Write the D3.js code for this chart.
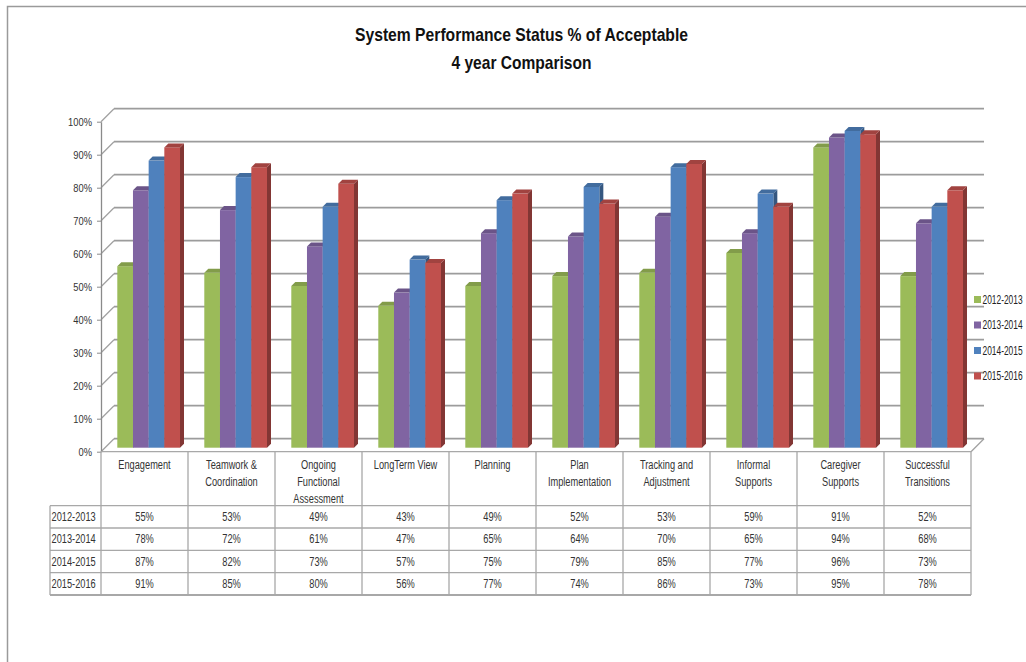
<!DOCTYPE html>
<html>
<head>
<meta charset="utf-8">
<script src="https://cdn.jsdelivr.net/npm/d3@7"></script>
<style>
  html, body { margin: 0; padding: 0; background: #fff; }
  svg { display: block; }
  text { font-family: 'Liberation Sans Narrow', 'Arial Narrow', 'Liberation Sans', sans-serif; fill: #333; }
</style>
</head>
<body>
<svg id="chart" width="1026" height="662"></svg>
<script>
// ---- data ----
const categories = ["Engagement", "Teamwork & Coordination", "Ongoing Functional Assessment", "LongTerm View", "Planning", "Plan Implementation", "Tracking and Adjustment", "Informal Supports", "Caregiver Supports", "Successful Transitions"];
const categoryLines = [["Engagement"], ["Teamwork &", "Coordination"], ["Ongoing", "Functional", "Assessment"], ["LongTerm View"], ["Planning"], ["Plan", "Implementation"], ["Tracking and", "Adjustment"], ["Informal", "Supports"], ["Caregiver", "Supports"], ["Successful", "Transitions"]];
const seriesNames = ["2012-2013", "2013-2014", "2014-2015", "2015-2016"];
const values2012 = [55, 53, 49, 43, 49, 52, 53, 59, 91, 52];
const values2013 = [78, 72, 61, 47, 65, 64, 70, 65, 94, 68];
const values2014 = [87, 82, 73, 57, 75, 79, 85, 77, 96, 73];
const values2015 = [91, 85, 80, 56, 77, 74, 86, 73, 95, 78];
const yTicks = [0, 10, 20, 30, 40, 50, 60, 70, 80, 90, 100];
const colors = ["#9BBB59", "#8064A2", "#4F81BD", "#C0504D"];
const titleLines = ["System Performance Status % of Acceptable", "4 year Comparison"];

const seriesValues = [values2012, values2013, values2014, values2015];

const svg = d3.select("#chart");

// condense text horizontally (mimics a narrow font)
function condense(sel, f) {
  sel.each(function () {
    const w = this.getComputedTextLength();
    d3.select(this).attr("textLength", (w * f).toFixed(1)).attr("lengthAdjust", "spacingAndGlyphs");
  });
}

// outer frame
svg.append("path").attr("d", "M7.5,662 V6.5 H1026").attr("fill", "none").attr("stroke", "#9a9a9a").attr("stroke-width", 1.5);

// title
svg.append("text").attr("x", 521.5).attr("y", 41).attr("text-anchor", "middle")
  .style("font-weight", "bold").style("font-size", "19px").style("fill", "#111")
  .attr("textLength", 333).attr("lengthAdjust", "spacingAndGlyphs").text(titleLines[0]);
svg.append("text").attr("x", 521.5).attr("y", 68.5).attr("text-anchor", "middle")
  .style("font-weight", "bold").style("font-size", "19px").style("fill", "#111")
  .attr("textLength", 140).attr("lengthAdjust", "spacingAndGlyphs").text(titleLines[1]);

// scales
const x = d3.scaleBand().domain(categories).range([101, 971]).paddingInner(0).paddingOuter(0);
const xs = d3.scaleBand().domain(seriesNames).range([16.3, 79]);
const y = d3.scaleLinear().domain([0, 100]).range([451.7, 121.7]);
const DX = 13, DY = -13;     // back wall depth
const BD = 4;                // bar depth offset from front plane
const TD = 4;                // bar top depth

// back wall gridlines
const grid = svg.append("g");
grid.selectAll("line.h").data(yTicks).join("line")
  .attr("x1", 101 + DX).attr("x2", 971 + DX)
  .attr("y1", d => y(d) + DY).attr("y2", d => y(d) + DY)
  .attr("stroke", "#9c9c9c").attr("stroke-width", 1.7);
// side wall diagonals
grid.selectAll("line.d").data(yTicks).join("line")
  .attr("x1", 101).attr("x2", 101 + DX)
  .attr("y1", d => y(d)).attr("y2", d => y(d) + DY)
  .attr("stroke", "#a0a0a0").attr("stroke-width", 1.3);
// floor right edge
grid.append("line").attr("x1", 971).attr("x2", 971 + DX).attr("y1", y(0)).attr("y2", y(0) + DY)
  .attr("stroke", "#a0a0a0").attr("stroke-width", 1.3);

// y axis
const yAxis = d3.axisLeft(y).tickValues(yTicks).tickFormat(d => d + "%").tickSize(4).tickSizeOuter(0);
const ag = svg.append("g").attr("transform", "translate(101,0)").call(yAxis);
ag.select(".domain").attr("stroke", "#8a8a8a").attr("stroke-width", 1.3);
ag.selectAll(".tick line").attr("stroke", "#8a8a8a");
ag.selectAll(".tick text").attr("x", -9).style("font-size", "11px").style("fill", "#333")
  .style("font-family", "'Liberation Sans Narrow', 'Arial Narrow', 'Liberation Sans', sans-serif");
condense(ag.selectAll(".tick text"), 0.85);

// bars (3D columns)
const barsG = svg.append("g");
const barW = xs.bandwidth();
categories.forEach((cat, ci) => {
  seriesNames.forEach((s, si) => {
    const v = seriesValues[si][ci];
    const x0 = x(cat) + xs(s);
    const x1 = x0 + barW;
    const top = y(v) - BD;
    const base = y(0) - BD;
    const c = d3.color(colors[si]);
    const g = barsG.append("g");
    // side face
    g.append("path")
      .attr("d", `M${x1},${top} L${x1 + TD},${top - TD} L${x1 + TD},${base - TD} L${x1},${base} Z`)
      .attr("fill", c.darker(1.1));
    // front face
    g.append("rect").attr("x", x0).attr("y", top).attr("width", barW).attr("height", base - top)
      .attr("fill", colors[si]);
    // top face
    g.append("path")
      .attr("d", `M${x0},${top} L${x1},${top} L${x1 + TD},${top - TD} L${x0 + TD},${top - TD} Z`)
      .attr("fill", c.darker(0.5));
  });
});

// legend
const lg = svg.append("g");
seriesNames.forEach((s, i) => {
  const ly = 299.5 + i * 25.5;
  lg.append("rect").attr("x", 974).attr("y", ly - 3.5).attr("width", 7).attr("height", 7).attr("fill", colors[i]);
  lg.append("text").attr("transform", `translate(982.5,${ly + 4}) scale(0.7,1)`)
    .style("font-size", "12px").style("fill", "#222").text(s);
});

// data table
const tg = svg.append("g");
const rowTops = [505.7, 528, 550.3, 572.7, 595];
const tableStroke = "#a8a8a8";
// horizontal lines
tg.append("line").attr("x1", 101).attr("x2", 971).attr("y1", y(0)).attr("y2", y(0)).attr("stroke", tableStroke).attr("stroke-width", 1.3);
rowTops.forEach((ry, i) => {
  tg.append("line").attr("x1", 50).attr("x2", 971).attr("y1", ry).attr("y2", ry)
    .attr("stroke", tableStroke).attr("stroke-width", i === rowTops.length - 1 ? 2 : 1.3);
});
// vertical lines
tg.append("line").attr("x1", 50).attr("x2", 50).attr("y1", rowTops[0]).attr("y2", rowTops[4]).attr("stroke", tableStroke).attr("stroke-width", 1.3);
categories.forEach((cat, ci) => {
  tg.append("line").attr("x1", x(cat)).attr("x2", x(cat)).attr("y1", y(0)).attr("y2", rowTops[4]).attr("stroke", tableStroke).attr("stroke-width", 1.3);
});
tg.append("line").attr("x1", 971).attr("x2", 971).attr("y1", y(0)).attr("y2", rowTops[4]).attr("stroke", tableStroke).attr("stroke-width", 1.3);

// header labels
categories.forEach((cat, ci) => {
  const cx = x(cat) + x.bandwidth() / 2;
  categoryLines[ci].forEach((ln, li) => {
    tg.append("text").attr("class", "tt").attr("x", cx).attr("y", 469 + li * 17).attr("text-anchor", "middle")
      .style("font-size", "12px").text(ln);
  });
});
// rows
seriesNames.forEach((s, si) => {
  const cy = (rowTops[si] + rowTops[si + 1]) / 2 + 4;
  tg.append("text").attr("class", "tt").attr("x", 51.5).attr("y", cy).style("font-size", "12px").text(s);
  categories.forEach((cat, ci) => {
    tg.append("text").attr("class", "tt").attr("x", x(cat) + x.bandwidth() / 2).attr("y", cy).attr("text-anchor", "middle")
      .style("font-size", "12px").text(seriesValues[si][ci] + "%");
  });
});
condense(tg.selectAll("text.tt"), 0.77);
</script>
</body>
</html>
